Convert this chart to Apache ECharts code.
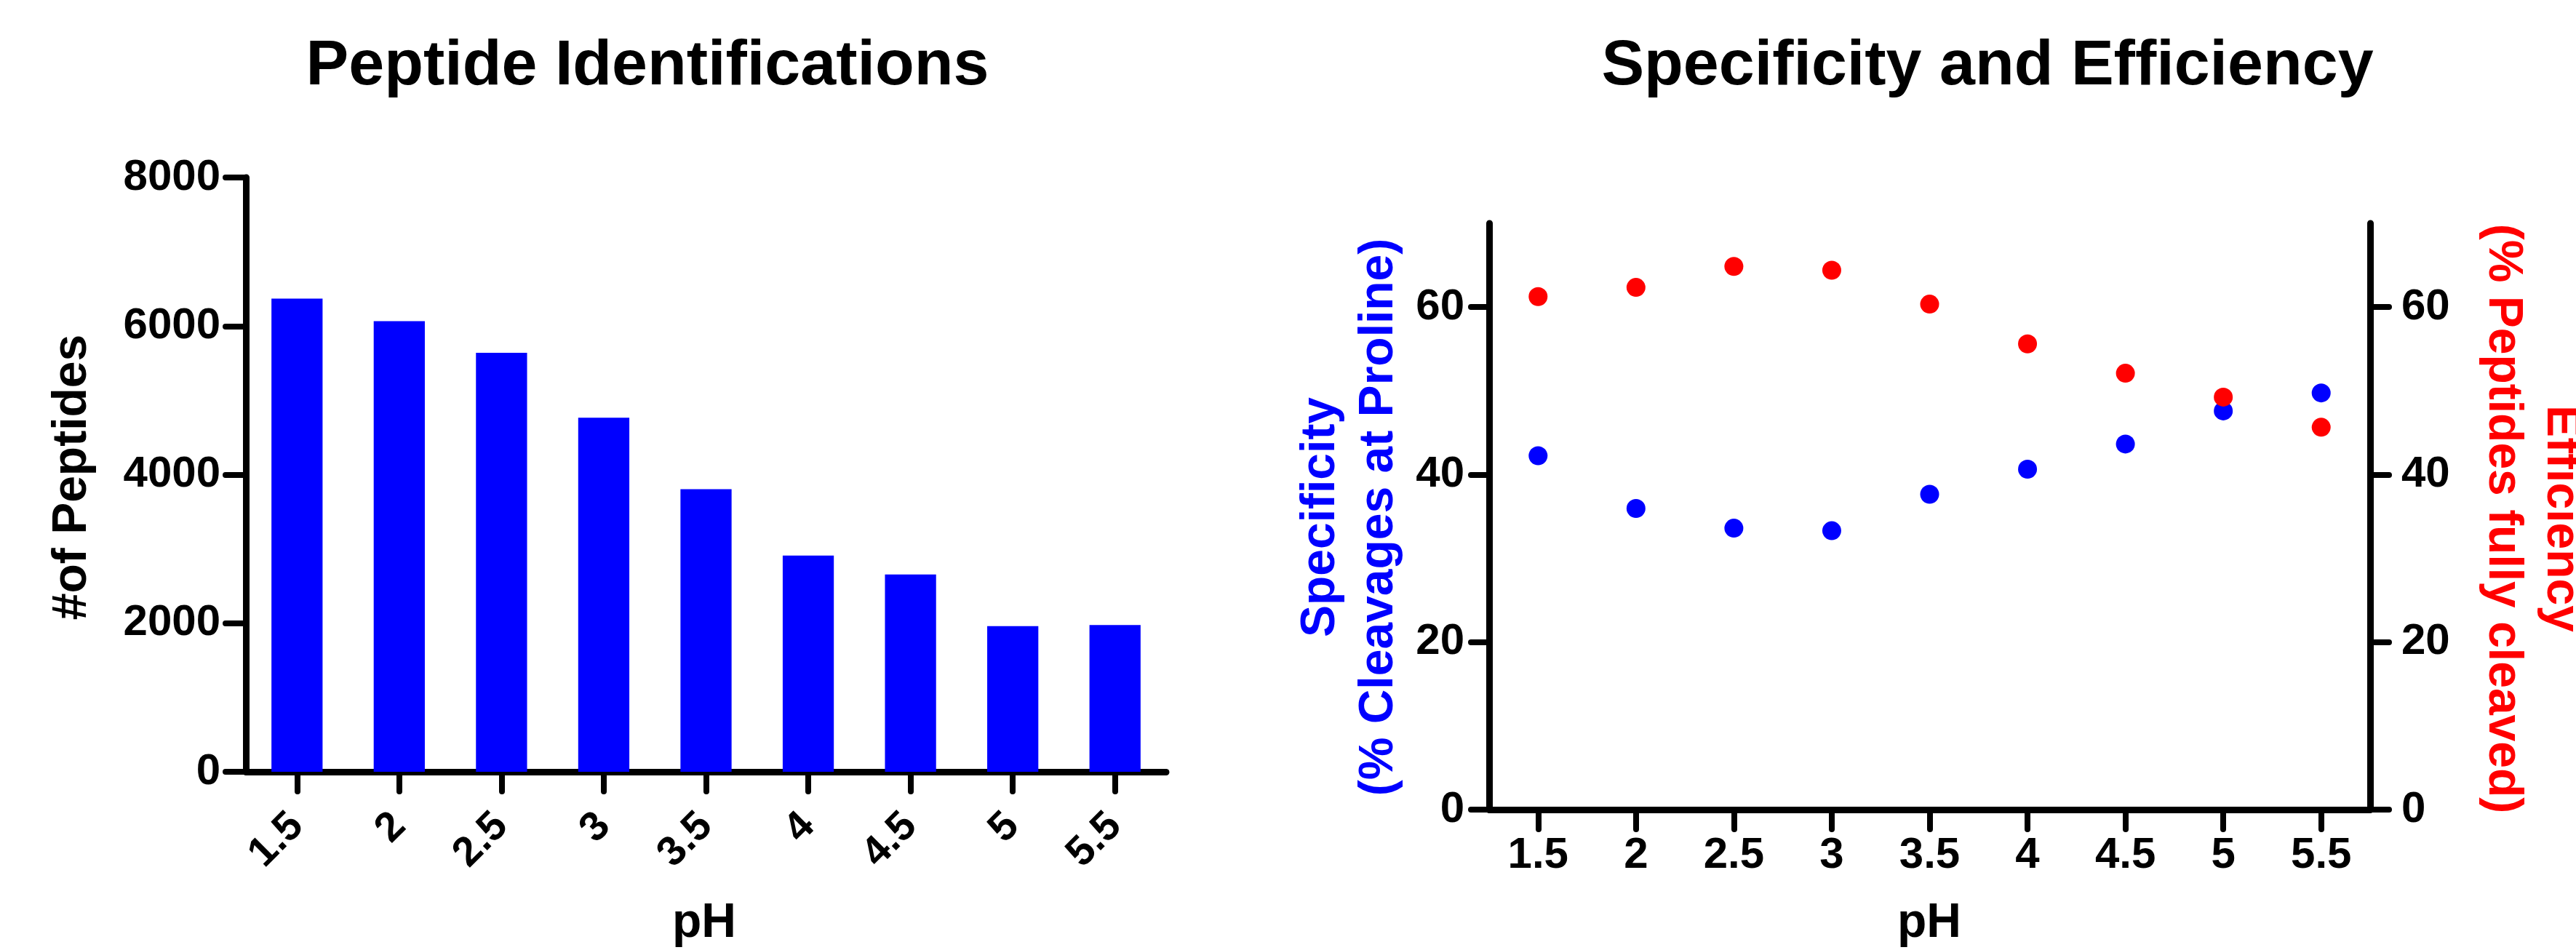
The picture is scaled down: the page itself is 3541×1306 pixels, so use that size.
<!DOCTYPE html>
<html><head><meta charset="utf-8">
<script src="https://cdn.jsdelivr.net/npm/echarts@6/dist/echarts.min.js"></script>
<style>html,body{margin:0;padding:0;background:#fff}#c{width:3541px;height:1306px}</style>
</head><body><div id="c"></div>
<script>
// ---- data ----
const categories = ['1.5', '2', '2.5', '3', '3.5', '4', '4.5', '5', '5.5'];
const peptideCounts = [6370, 6065, 5640, 4765, 3805, 2910, 2655, 1960, 1975];
const specificity = [42.25, 35.95, 33.6, 33.3, 37.65, 40.65, 43.65, 47.6, 49.75];
const efficiency = [61.25, 62.35, 64.85, 64.4, 60.35, 55.6, 52.1, 49.25, 45.65];
const peptideTicks = [0, 2000, 4000, 6000, 8000];
const percentTicks = [0, 20, 40, 60];

const FONT = '"Liberation Sans", Arial, sans-serif';
const BLUE = '#0000ff', RED = '#ff0000';
const axisLine = { show: true, lineStyle: { color: '#000', width: 9, cap: 'round' } };
const tick = (len) => ({ show: true, length: len, lineStyle: { color: '#000', width: 8, cap: 'round' } });
const lbl = (margin, extra) => Object.assign({ color: '#000', fontFamily: FONT, fontWeight: 'bold', fontSize: 60, margin: margin, formatter: (v) => String(v) }, extra || {});

function txt(text, x, y, size, color, rotation) {
  return {
    type: 'text', x: x, y: y, rotation: rotation || 0, silent: true,
    style: {
      text: text, font: 'bold ' + size + 'px ' + FONT, fill: color,
      align: 'center', verticalAlign: 'middle', textAlign: 'center', textVerticalAlign: 'middle',
      lineHeight: 80
    }
  };
}

const chart = echarts.init(document.getElementById('c'), null, { renderer: 'canvas' });
chart.setOption({
  backgroundColor: '#fff',
  animation: false,
  grid: [
    { left: 338, top: 244, width: 1265, height: 817, containLabel: false },
    { left: 2047, top: 307, width: 1211, height: 806, containLabel: false }
  ],
  xAxis: [
    {
      type: 'category', gridIndex: 0, data: categories,
      axisLine: axisLine, axisTick: Object.assign(tick(27), { alignWithLabel: true }),
      axisLabel: lbl(66, { rotate: 45, interval: 0, fontSize: 57 }), splitLine: { show: false }
    },
    {
      type: 'category', gridIndex: 1, data: categories,
      axisLine: axisLine, axisTick: Object.assign(tick(27), { alignWithLabel: true }),
      axisLabel: lbl(33, { interval: 0 }), splitLine: { show: false }
    }
  ],
  yAxis: [
    {
      type: 'value', gridIndex: 0, min: 0, max: 8000, interval: 2000,
      axisLine: axisLine, axisTick: Object.assign(tick(28), { customValues: peptideTicks }),
      axisLabel: lbl(35, { customValues: peptideTicks }), splitLine: { show: false }
    },
    {
      type: 'value', gridIndex: 1, position: 'left', min: 0, max: 70, interval: 10,
      axisLine: axisLine, axisTick: Object.assign(tick(25), { customValues: percentTicks }),
      axisLabel: lbl(34, { customValues: percentTicks }), splitLine: { show: false }
    },
    {
      type: 'value', gridIndex: 1, position: 'right', min: 0, max: 70, interval: 10,
      axisLine: axisLine, axisTick: Object.assign(tick(26), { customValues: percentTicks }),
      axisLabel: lbl(43, { customValues: percentTicks }), splitLine: { show: false }
    }
  ],
  series: [
    {
      name: '#of Peptides', type: 'bar', xAxisIndex: 0, yAxisIndex: 0,
      data: peptideCounts, barWidth: '50%', itemStyle: { color: BLUE }, z: 1
    },
    {
      name: 'Specificity', type: 'scatter', xAxisIndex: 1, yAxisIndex: 1,
      data: specificity, symbol: 'circle', symbolSize: 26, itemStyle: { color: BLUE, opacity: 1 }
    },
    {
      name: 'Efficiency', type: 'scatter', xAxisIndex: 1, yAxisIndex: 2,
      data: efficiency, symbol: 'circle', symbolSize: 26, itemStyle: { color: RED, opacity: 1 }
    }
  ],
  graphic: [
    txt('Peptide Identifications', 890, 92, 88, '#000'),
    txt('Specificity and Efficiency', 2732, 92, 88, '#000'),
    txt('#of Peptides', 100, 656, 66, '#000', Math.PI / 2),
    txt('pH', 968, 1270, 66, '#000'),
    txt('pH', 2652, 1270, 66, '#000'),
    txt('Specificity\n(% Cleavages at Proline)', 1856, 711, 66, BLUE, Math.PI / 2),
    txt('Efficiency\n(% Peptides fully cleaved)', 3480, 713, 66, RED, -Math.PI / 2)
  ]
});
</script>
</body></html>
